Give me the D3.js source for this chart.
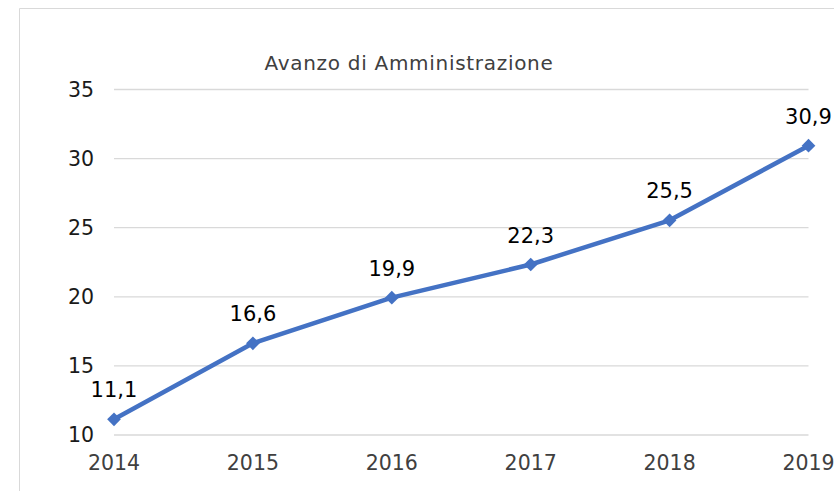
<!DOCTYPE html>
<html>
<head>
<meta charset="utf-8">
<script src="https://cdn.jsdelivr.net/npm/d3@7"></script>
<style>
  body { margin: 0; background: #fff; }
  text { font-family: "DejaVu Sans", Verdana, sans-serif; }
</style>
</head>
<body>
<div id="chart"></div>
<script>
const WIDTH = 834;
const HEIGHT = 491;

const years = ['2014', '2015', '2016', '2017', '2018', '2019'];
const values = [11.1, 16.6, 19.9, 22.3, 25.5, 30.9];
const yTicks = [10, 15, 20, 25, 30, 35];
const title = 'Avanzo di Amministrazione';

const svg = d3.select('#chart')
    .append('svg')
    .attr('width', WIDTH)
    .attr('height', HEIGHT)

// chart area border (only top and left visible)
svg.append('path')
    .attr('d', `M19.5,${HEIGHT} L19.5,8.5 L${WIDTH},8.5`)
    .attr('fill', 'none')
    .attr('stroke', '#d9d9d9')
    .attr('stroke-width', 1)

const x = d3.scalePoint()
    .domain(years)
    .range([114, 808.5])

const y = d3.scaleLinear()
    .domain([10, 35])
    .range([434.5, 89])

// gridlines
svg.append('g')
    .attr('transform', 'translate(114,0)')
    .call(d3.axisLeft(y).tickValues(yTicks).tickSize(-(808.5 - 114)).tickFormat(''))
    .call(g => g.select('.domain').remove())
    .call(g => g.selectAll('line').attr('stroke', '#d9d9d9').attr('stroke-width', 1.3))

// y labels
svg.append('g')
    .selectAll('text')
    .data(yTicks)
    .enter()
    .append('text')
    .attr('x', 94)
    .attr('y', d => y(d) + 7.5)
    .attr('text-anchor', 'end')
    .attr('font-size', 20.5)
    .attr('fill', '#1a1a1a')
    .text(d => d)

// x labels
svg.append('g')
    .selectAll('text')
    .data(years)
    .enter()
    .append('text')
    .attr('x', d => x(d))
    .attr('y', 470)
    .attr('text-anchor', 'middle')
    .attr('font-size', 20.5)
    .attr('fill', '#404040')
    .text(d => d)

// title
svg.append('text')
    .attr('x', 409)
    .attr('y', 70)
    .attr('text-anchor', 'middle')
    .attr('font-size', 20)
    .attr('letter-spacing', 0.7)
    .attr('fill', '#404040')
    .text(title)

// line
const line = d3.line()
    .x((d, i) => x(years[i]))
    .y(d => y(d))

svg.append('path')
    .datum(values)
    .attr('d', line)
    .attr('fill', 'none')
    .attr('stroke', '#4472C4')
    .attr('stroke-width', 4.5)
    .attr('stroke-linejoin', 'round')

// markers
svg.selectAll('.marker')
    .data(values)
    .enter()
    .append('path')
    .attr('class', 'marker')
    .attr('d', d3.symbol().type(d3.symbolDiamond2).size(120))
    .attr('transform', (d, i) => `translate(${x(years[i])},${y(d)})`)
    .attr('fill', '#4472C4')

// data labels
svg.selectAll('.label')
    .data(values)
    .enter()
    .append('text')
    .attr('class', 'label')
    .attr('x', (d, i) => x(years[i]))
    .attr('y', d => y(d) - 22)
    .attr('text-anchor', 'middle')
    .attr('font-size', 21)
    .attr('fill', '#000')
    .text(d => d.toFixed(1).replace('.', ','))
</script>
</body>
</html>
